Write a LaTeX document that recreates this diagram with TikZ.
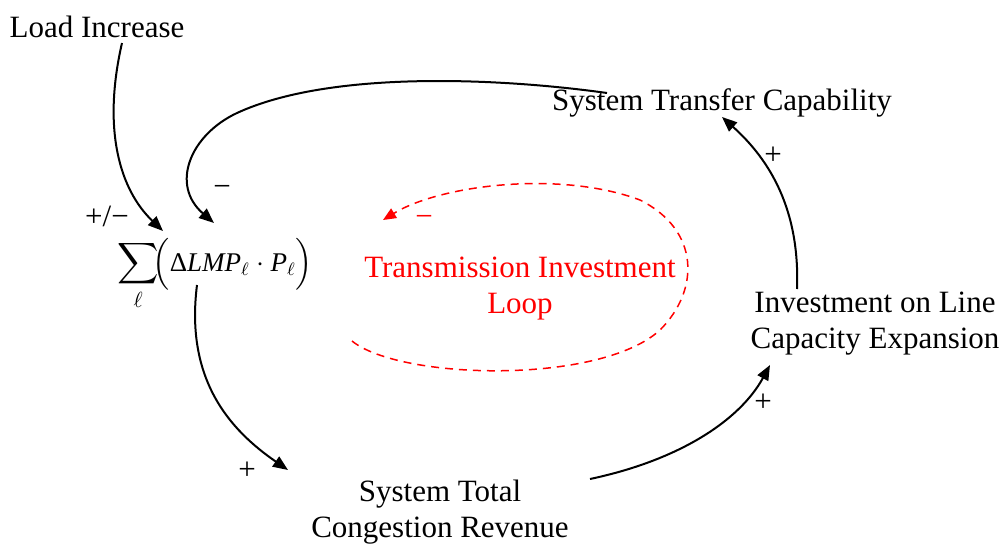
\documentclass[tikz,border=0pt]{standalone}
\usepackage{fontspec}
\setmainfont{Liberation Serif}
\usepackage{amsmath}
\usetikzlibrary{arrows.meta,calc}
\newcommand{\lmpterm}{\text{\fontsize{13.5}{16}\selectfont$\Bigl(\text{Δ}\textit{LMP}_{\ell}\cdot\textit{P}_{\ell}\Bigr)$}}
\begin{document}
\begin{tikzpicture}[x=0.5pt,y=-0.5pt,
  lbl/.style={inner sep=0pt,font=\fontsize{15.5}{18}\selectfont,align=center},
  sgn/.style={inner sep=0pt,font=\fontsize{15.5}{18}\selectfont},
  arr/.style={line width=1pt,-{Triangle[length=7.5pt,width=6pt]}},
  loopline/.style={red,line width=0.75pt,dash pattern=on 4pt off 3pt,-{Triangle[length=6.5pt,width=5.5pt]}}]
\useasboundingbox (0,0) rectangle (1005,546);

% variables of the causal loop
\node[lbl] (load) at (97,27) {Load Increase};
\node[lbl] (stc) at (722,103) {System Transfer Capability};
\node[lbl,anchor=west] (sum) at (117,274) {$\displaystyle\sum_{\ell}\mkern-7mu\lmpterm$};
\node[lbl,red] (loop) at (520,289) {Transmission Investment\\Loop};
\node[lbl] (inv) at (875,324) {Investment on Line\\Capacity Expansion};
\node[lbl] (tot) at (440,512) {System Total\\Congestion Revenue};

% causal links
\draw[arr] ($(load)+(25,16)$) .. controls (102,130) and (120,190) .. ($(sum.west)+(46,-43)$);
\draw[arr] ($(stc)+(-115,-10)$) .. controls (500,78) and (330,70) .. (237,113)
   .. controls (190,135) and (170,185) .. ($(sum.west)+(97,-51)$);
\draw[arr] ($(sum.west)+(80,11)$) .. controls (185,380) and (230,430) .. ($(tot)+(-152,-42)$);
\draw[arr] ($(tot)+(150,-33)$) .. controls (680,460) and (740,420) .. ($(inv)+(-105,41)$);
\draw[arr] ($(inv)+(-78,-35)$) .. controls (800,210) and (770,160) .. ($(stc)+(0,14)$);

% the balancing loop marker
\draw[loopline] ($(loop)+(-168,52)$) .. controls (400,380) and (600,385) .. (660,330)
   .. controls (700,290) and (700,230) .. (640,200)
   .. controls (560,170) and (440,185) .. ($(loop)+(-137,-69)$);

% link polarities
\node[sgn] (pm) at (107,216) {+/−};
\node[sgn] (m1) at (222,191) {−};
\node[sgn] (p1) at (247,471) {+};
\node[sgn] (p2) at (763,403) {+};
\node[sgn] (p3) at (773,156) {+};
\node[sgn,red] (m2) at (424,221) {−};
\end{tikzpicture}
\end{document}
